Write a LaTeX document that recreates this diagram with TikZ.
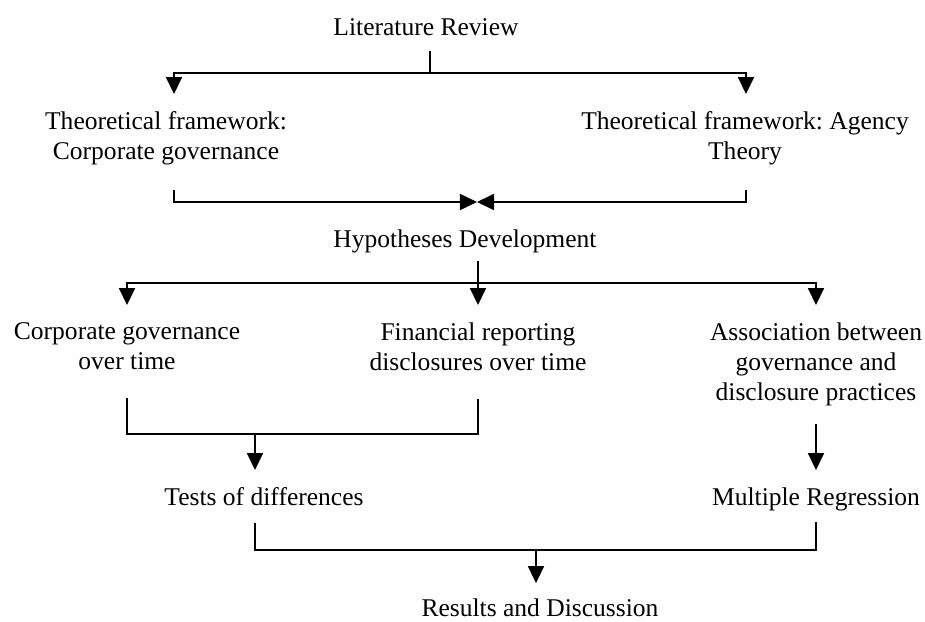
\documentclass[tikz,border=0pt]{standalone}
\usepackage{fontspec}
\setmainfont{Liberation Serif}
\usetikzlibrary{arrows.meta}
\frenchspacing

\tikzset{
  txt/.style={anchor=north, inner sep=0pt, align=center, font=\fontsize{12}{14}\selectfont},
  wire/.style={line width=0.9pt},
  arr/.style={wire, -{Triangle[width=7.5pt,length=8pt]}},
}

\begin{document}
\begin{tikzpicture}[x=0.47pt, y=-0.47pt]
\useasboundingbox (0,0) rectangle (925,622);
% texts
\node[txt] (lit) at (426,18.5) {Literature Review};
\node[txt] (thl) at (166,111.5) {Theoretical framework:\\Corporate governance};
\node[txt] (thr) at (745,111.5) {Theoretical framework: Agency\\Theory};
\node[txt] (hyp) at (465,229.5) {Hypotheses Development};
\node[txt] (cgt) at (127,322.5) {Corporate governance\\over time};
\node[txt] (frd) at (478,322.5) {Financial reporting\\disclosures over time};
\node[txt] (asc) at (816,322.5) {Association between\\governance and\\disclosure practices};
\node[txt] (tod) at (264,487.5) {Tests of differences};
\node[txt] (mr) at (816,487.5) {Multiple Regression};
\node[txt] (res) at (540,598) {Results and Discussion};
% junctions
\coordinate (j1) at (430,73);
\coordinate (c1) at (174,73);
\coordinate (c2) at (746,73);
\coordinate (j2) at (477,202);
\coordinate (j3) at (478,283);
\coordinate (j4) at (255,434);
\coordinate (j5) at (536,550);
% literature review -> frameworks
\draw[wire, shorten <=6.6pt] (j1 |- lit.south) -- (j1);
\draw[arr, shorten >=8.2pt] (j1) -- (c1) -- (c1 |- thl.north);
\draw[arr, shorten >=8.2pt] (j1) -- (c2) -- (c2 |- thr.north);
% frameworks -> hypotheses
\draw[arr, shorten <=11.5pt] (c1 |- thl.south) |- (j2);
\draw[arr, shorten <=11.5pt] (c2 |- thr.south) |- (j2);
% hypotheses -> three strands
\draw[arr, shorten <=3.5pt, shorten >=8.2pt] (j3 |- hyp.south) -- (j3 |- frd.north);
\draw[arr, shorten >=8.2pt] (j3) -| (cgt.north);
\draw[arr, shorten >=8.2pt] (j3) -| (asc.north);
% strands -> methods
\draw[wire, shorten <=13pt, shorten >=13pt] (cgt.south) |- (j4) -| (frd.south);
\draw[arr, shorten >=8.2pt] (j4) -- (j4 |- tod.north);
\draw[arr, shorten <=8.5pt, shorten >=8.2pt] (asc.south) -- (mr.north);
% methods -> results
\draw[wire, shorten <=7.5pt, shorten >=5pt] (j4 |- tod.south) |- (j5) -| (mr.south);
\draw[arr, shorten >=7pt] (j5) -- (j5 |- res.north);
\end{tikzpicture}
\end{document}
